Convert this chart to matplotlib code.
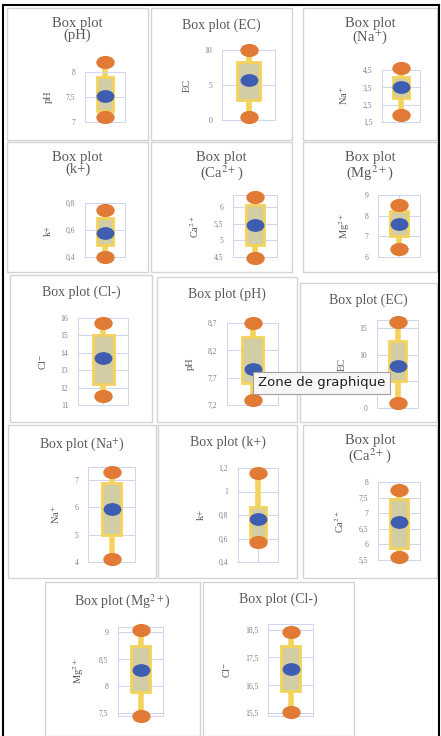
import matplotlib
matplotlib.use('Agg')
import matplotlib.pyplot as plt
from matplotlib.patches import Rectangle
import matplotlib.path as mpath
import numpy as np

plt.rcParams['font.family'] = ['Liberation Serif', 'DejaVu Serif']
plt.rcParams['mathtext.fontset'] = 'stix'

# panel data
titles = ['Box plot\n(pH)', 'Box plot (EC)', 'Box plot\n(Na$^{+}$)',
          'Box plot\n(k+)', 'Box plot\n(Ca$^{2+}$)', 'Box plot\n(Mg$^{2+}$)',
          'Box plot (Cl-)', 'Box plot (pH)', 'Box plot (EC)',
          'Box plot (Na$^{+}$)', 'Box plot (k+)', 'Box plot\n(Ca$^{2+}$)',
          'Box plot (Mg$^{2+}$)', 'Box plot (Cl-)']
ylabels = ['pH', 'EC', 'Na$^{+}$', 'k+', 'Ca$^{2+}$', 'Mg$^{2+}$', 'Cl$^{-}$',
           'pH', 'EC', 'Na$^{+}$', 'k+', 'Ca$^{2+}$', 'Mg$^{2+}$', 'Cl$^{-}$']
ticks = [[7, 7.5, 8], [0, 5, 10], [1.5, 2.5, 3.5, 4.5], [0.4, 0.6, 0.8],
         [4.5, 5, 5.5, 6], [6, 7, 8, 9], [11, 12, 13, 14, 15, 16],
         [7.2, 7.7, 8.2, 8.7], [0, 5, 10, 15], [4, 5, 6, 7], [0.4, 0.6, 0.8, 1, 1.2],
         [5.5, 6, 6.5, 7, 7.5, 8], [7.5, 8, 8.5, 9], [15.5, 16.5, 17.5, 18.5]]
ticklabels = [['7', '7,5', '8'], ['0', '5', '10'], ['1,5', '2,5', '3,5', '4,5'],
              ['0,4', '0,6', '0,8'], ['4,5', '5', '5,5', '6'], ['6', '7', '8', '9'],
              ['11', '12', '13', '14', '15', '16'], ['7,2', '7,7', '8,2', '8,7'],
              ['0', '5', '10', '15'], ['4', '5', '6', '7'], ['0,4', '0,6', '0,8', '1', '1,2'],
              ['5,5', '6', '6,5', '7', '7,5', '8'], ['7,5', '8', '8,5', '9'],
              ['15,5', '16,5', '17,5', '18,5']]
wlo = [7.11, 0.5, 1.9, 0.40, 4.48, 6.4, 11.5, 7.3, 0.9, 4.1, 0.57, 5.6, 7.45, 15.55]
q1 = [7.23, 2.9, 2.9, 0.49, 4.85, 7.0, 12.2, 7.6, 5.0, 5.0, 0.60, 5.87, 7.9, 16.3]
mean = [7.53, 5.7, 3.5, 0.575, 5.47, 7.6, 13.7, 7.85, 7.8, 5.95, 0.77, 6.72, 8.3, 17.1]
q3 = [7.9, 8.3, 4.1, 0.69, 6.05, 8.25, 15.0, 8.45, 12.5, 6.9, 0.87, 7.47, 8.75, 17.9]
whi = [8.2, 10.0, 4.6, 0.75, 6.3, 8.5, 15.7, 8.7, 16.2, 7.3, 1.16, 7.73, 9.05, 18.4]
ylims = [(7, 8), (0, 10), (1.5, 4.5), (0.4, 0.8), (4.5, 6.36), (6, 9),
         (11, 16), (7.2, 8.7), (0, 16.5), (4, 7.48), (0.4, 1.2),
         (5.5, 8), (7.45, 9.1), (15.4, 18.7)]

# layout in pixels: panel frames and plot areas (x0, y0, x1, y1)
frames = [(7, 8, 148, 140), (151, 8, 292, 140), (303, 8, 437, 140),
          (7, 142, 148, 272), (151, 142, 292, 272), (303, 142, 437, 272),
          (10, 275, 152, 422), (157, 277, 297, 422), (300, 283, 437, 422),
          (8, 425, 156, 578), (158, 425, 297, 578), (303, 425, 437, 578),
          (45, 582, 200, 736), (203, 582, 354, 736)]
areas = [(85, 72, 125, 122), (222, 50, 275, 120), (382, 70, 420, 122),
         (85, 203, 125, 257), (233, 195, 277, 257), (378, 195, 420, 257),
         (78, 318, 128, 405), (227, 323, 278, 405), (377, 320, 418, 408),
         (88, 467, 135, 562), (238, 468, 278, 562), (378, 482, 420, 560),
         (118, 627, 163, 716), (268, 624, 313, 716)]

W, H = 441, 736
fig = plt.figure(figsize=(W / 100, H / 100), dpi=100)
fig.patch.set_facecolor('white')

def fx(x):
    return x / W

def fy(y):
    return 1 - y / H

# outer black border
fig.add_artist(plt.Line2D([fx(3), fx(3)], [fy(5), fy(736)], color='black', lw=1.5, zorder=-5))
fig.add_artist(plt.Line2D([fx(3), fx(439)], [fy(5), fy(5)], color='black', lw=1.5, zorder=-5))
fig.add_artist(plt.Line2D([fx(439), fx(439)], [fy(5), fy(736)], color='black', lw=1.5, zorder=-5))

circ = mpath.Path.unit_circle()
ell = mpath.Path(circ.vertices * np.array([1.45, 1.0]), circ.codes)

for i in range(len(titles)):
    x0, y0, x1, y1 = frames[i]
    w = x1 - x0
    h = y1 - y0
    fig.add_artist(Rectangle((fx(x0), fy(y1)), fx(w), h / H, transform=fig.transFigure,
                             facecolor='white', edgecolor='#d4d4d4', lw=1, zorder=-10))
    two = '\n' in titles[i]
    fig.text(fx(x0 + w / 2), fy(y0 + (9 if two else 11)), titles[i], ha='center', va='top',
             fontsize=10.5 if two else 10, color='#595959', linespacing=0.9)
    a0, b0, a1, b1 = areas[i]
    ax = fig.add_axes([fx(a0), fy(b1), fx(a1 - a0), (b1 - b0) / H])
    ax.set_xlim(0, 1)
    ax.set_ylim(*ylims[i])
    ax.set_yticks(ticks[i])
    ax.set_yticklabels(ticklabels[i])
    ax.set_xticks([0.5])
    ax.set_xticklabels([])
    ax.tick_params(length=0, labelsize=5.5, colors='#808080', pad=7)
    ax.grid(True, color='#cfd5f2', lw=0.7)
    for s in ax.spines.values():
        s.set_color('#cfd5f2')
        s.set_linewidth(0.7)
    ax.set_ylabel(ylabels[i], fontsize=7.5, color='#555555', labelpad=9)
    ax.vlines(0.5, wlo[i], whi[i], color='#f3d35c', lw=4, zorder=2, clip_on=False)
    ax.bar(0.5, q3[i] - q1[i], bottom=q1[i], width=0.42, color='#d3cda5',
           edgecolor='#f3d35c', lw=2, zorder=3, clip_on=False)
    ax.scatter([0.5, 0.5], [wlo[i], whi[i]], marker=ell, s=150, color='#e07a35',
               zorder=4, clip_on=False)
    ax.scatter([0.5], [mean[i]], marker=ell, s=140, color='#3f5db0', zorder=5, clip_on=False)

# chart-area tooltip
fig.text(fx(258), fy(383), 'Zone de graphique', family='DejaVu Sans', fontsize=9.5,
         color='#222222', va='center', ha='left', zorder=20,
         bbox=dict(boxstyle='square,pad=0.35', facecolor='#f6f6f6', edgecolor='#a0a0a0', lw=0.8))

fig.savefig('out.png', dpi=100)
